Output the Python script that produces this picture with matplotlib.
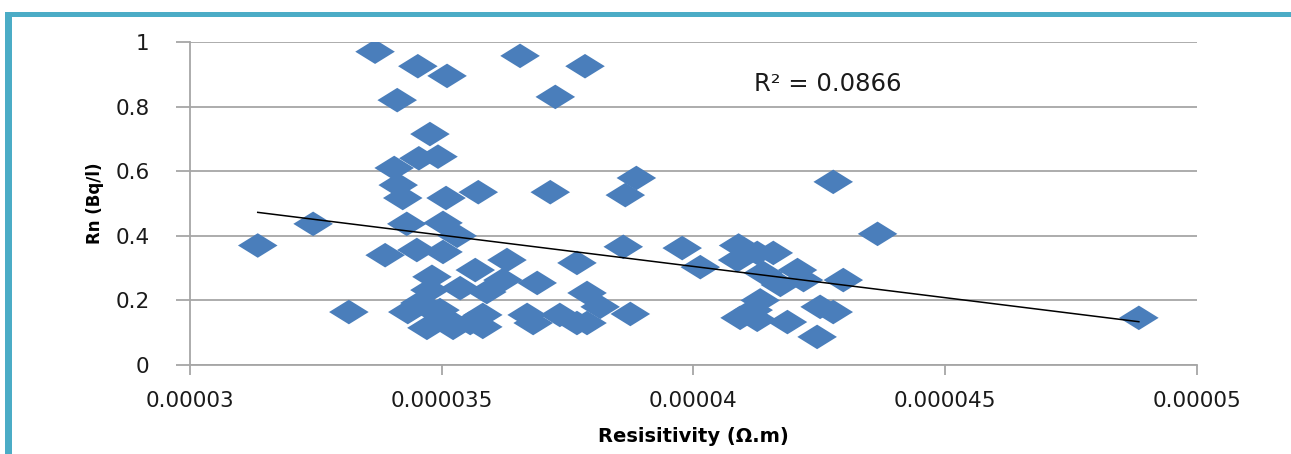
import numpy as np
import matplotlib
matplotlib.use("Agg")
import matplotlib.pyplot as plt
from matplotlib.patches import Rectangle

# resistivity (ohm.m) and radon (Bq/l)
resistivity = np.array([
    3.135, 3.245, 3.316, 3.368, 3.412, 3.453, 3.511, 3.477, 3.406, 3.455,
    3.493, 3.414, 3.423, 3.509, 3.573, 3.716, 3.656, 3.785, 3.726, 3.865,
    3.887, 4.278, 4.366, 4.885,
    3.431, 3.503, 3.531, 3.388, 3.451, 3.503, 3.861, 3.978, 4.014, 4.090,
    4.088, 4.127, 4.159, 3.630, 3.769,
    3.567, 3.481, 3.537, 3.590, 3.622, 3.690, 3.477, 3.789, 4.139, 4.207,
    4.219, 4.173, 4.298, 4.133,
    3.815, 3.433, 3.457, 3.471, 3.471, 3.503, 3.523, 3.557, 3.582, 3.582,
    3.670, 3.682, 3.735, 3.769, 3.789, 3.875, 3.497, 4.119, 4.093, 4.127,
    4.187, 4.252, 4.278, 4.246,
]) * 1e-5
radon = [
    0.370, 0.437, 0.164, 0.970, 0.820, 0.925, 0.895, 0.715, 0.610, 0.640,
    0.645, 0.557, 0.517, 0.517, 0.535, 0.535, 0.957, 0.925, 0.830, 0.526,
    0.579, 0.567, 0.406, 0.146,
    0.437, 0.440, 0.400, 0.340, 0.356, 0.350, 0.366, 0.362, 0.303, 0.370,
    0.325, 0.347, 0.347, 0.325, 0.316,
    0.294, 0.273, 0.238, 0.226, 0.263, 0.254, 0.232, 0.223, 0.285, 0.294,
    0.263, 0.248, 0.263, 0.200,
    0.180, 0.164, 0.192, 0.180, 0.115, 0.149, 0.115, 0.130, 0.155, 0.118,
    0.155, 0.130, 0.155, 0.130, 0.130, 0.158, 0.170, 0.170, 0.146, 0.140,
    0.133, 0.180, 0.164, 0.087,
]

x_ticks = [0.00003, 0.000035, 0.00004, 0.000045, 0.00005]
x_tick_labels = ["0.00003", "0.000035", "0.00004", "0.000045", "0.00005"]
y_ticks = [0, 0.2, 0.4, 0.6, 0.8, 1.0]
y_tick_labels = ["0", "0.2", "0.4", "0.6", "0.8", "1"]
r2_text = "R² = 0.0866"

blue = "#4A7EBB"
grid_grey = "#A6A6A6"
frame = "#4BACC6"

plt.rcParams['font.family'] = ['DejaVu Sans']

fig = plt.figure(figsize=(12.91, 4.54), dpi=100)
ax = fig.add_axes([0.147, 0.196, 0.780, 0.7115])

# wide flat diamond like the excel marker
diamond = [(-1, 0), (0, 0.62), (1, 0), (0, -0.62), (-1, 0)]
ax.scatter(resistivity, radon, marker=diamond, s=28.5 ** 2, color=blue,
           edgecolors="none", zorder=3)

# linear trendline
k, b = np.polyfit(resistivity, radon, 1)
xs = np.array([resistivity.min(), resistivity.max()])
ax.plot(xs, k * xs + b, color="black", lw=1.1, zorder=4)

ax.set_xlim(x_ticks[0], x_ticks[-1])
ax.set_ylim(0, 1)
ax.set_xticks(x_ticks)
ax.set_xticklabels(x_tick_labels)
ax.set_yticks(y_ticks)
ax.set_yticklabels(y_tick_labels)
ax.yaxis.grid(True, color=grid_grey, lw=1.3)
ax.set_axisbelow(True)

for s in ["top", "right"]:
    ax.spines[s].set_visible(False)
for s in ["left", "bottom"]:
    ax.spines[s].set_color(grid_grey)
    ax.spines[s].set_linewidth(1.3)

ax.tick_params(axis="x", direction="out", length=7, width=1.3,
               color=grid_grey, labelsize=15.5, pad=12, labelcolor="#1a1a1a")
ax.tick_params(axis="y", direction="out", length=10, width=1.3,
               color=grid_grey, labelsize=15.5, pad=19, labelcolor="#1a1a1a")

ax.set_xlabel("Resisitivity (Ω.m)", fontsize=14, fontweight="bold", labelpad=11)
ax.set_ylabel("Rn (Bq/l)", fontsize=12, fontweight="bold", labelpad=8)

ax.text(0.0000412, 0.87, r2_text, fontsize=17.5, color="#1a1a1a",
        va="center", ha="left")

# teal frame on top and left edges
fig.add_artist(Rectangle((5 / 1291, 0), 7 / 1291, 1 - 12 / 454,
                         transform=fig.transFigure, color=frame, lw=0))
fig.add_artist(Rectangle((5 / 1291, 1 - 17 / 454), 1, 5 / 454,
                         transform=fig.transFigure, color=frame, lw=0))

fig.savefig("out.png", dpi=100)
